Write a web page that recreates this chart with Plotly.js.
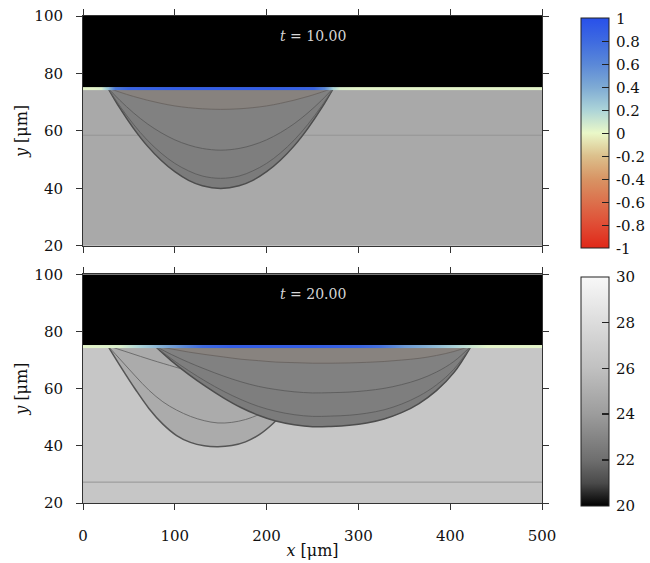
<!DOCTYPE html>
<html>
<head>
<meta charset="utf-8">
<script src="https://cdn.plot.ly/plotly-3.0.1.min.js"></script>
<style>html,body{margin:0;padding:0;background:#fff;}#chart{width:650px;height:563px;}</style>
</head>
<body>
<div id="chart"></div>
<script>
// ---------------- data ----------------
const xTicks = [0, 100, 200, 300, 400, 500];
const yTicks = [20, 40, 60, 80, 100];

// background field (cell edges) : substrate 20-75, gas 75-100
const fieldX = [0, 500];
const fieldY = [20, 75, 100];
const fieldTop = [[24.7], [20]];
const fieldBottom = [[26.4], [20]];

// faint horizontal isolines in the substrate
const isoX = [0, 500];
const isoTopY = [58.5, 58.5];
const isoBottomY = [27.3, 27.3];

// t = 10 : melt pool boundary and inner contours
const poolTopX = [27, 40, 55, 70, 85, 100, 115, 130, 150, 170, 185, 200, 215, 230, 245, 260, 273];
const poolTopY = [75, 68.0, 60.9, 54.8, 49.8, 45.8, 42.8, 40.9, 40.0, 40.9, 42.8, 45.8, 49.8, 54.8, 60.9, 68.0, 75];
const contTop1Y = [75, 68.7, 62.3, 56.8, 52.3, 48.7, 46.1, 44.3, 43.5, 44.3, 46.1, 48.7, 52.3, 56.8, 62.3, 68.7, 75];
const contTop2Y = [75, 70.7, 66.3, 62.5, 59.4, 56.9, 55.1, 53.9, 53.3, 53.9, 55.1, 56.9, 59.4, 62.5, 66.3, 70.7, 75];
const contTop3Y = [75, 73.5, 72.0, 70.7, 69.6, 68.7, 68.1, 67.7, 67.5, 67.7, 68.1, 68.7, 69.6, 70.7, 72.0, 73.5, 75];

// t = 20 : older (solidified) pool A and current pool B
const poolAX = [27, 42, 57, 72, 87, 102, 117, 132, 147, 162, 177, 192, 207, 222, 237, 252, 262];
const poolAY = [75, 67.2, 59.8, 53.0, 47.6, 43.6, 41.2, 40.0, 39.7, 40.1, 41.4, 43.9, 47.8, 53.0, 59.5, 67.0, 75];
const contA1X = [27, 42, 57, 72, 87, 102, 117, 132, 147, 162, 177, 192, 200];
const contA1Y = [75, 69.7, 64.4, 59.4, 55.4, 52.5, 50.3, 48.8, 48.0, 48.2, 49.2, 51.0, 52.3];
const contA2X = [27, 50, 75, 100, 112];
const contA2Y = [75, 72.6, 70, 67.6, 66.5];
const poolBX = [78, 96, 115, 134, 153, 172, 191, 210, 230, 250, 270, 290, 309, 328, 347, 366, 385, 404, 423];
const poolBY = [75, 69.8, 65.0, 60.7, 56.8, 53.4, 50.7, 48.7, 47.4, 46.7, 46.8, 47.2, 48.0, 49.4, 51.6, 54.8, 59.3, 65.6, 75];
const contB1Y = [75, 70.5, 66.3, 62.5, 59.1, 56.2, 53.8, 52.1, 50.9, 50.3, 50.4, 50.7, 51.4, 52.6, 54.6, 57.4, 61.3, 66.8, 75];
const contB2Y = [75, 72.0, 69.2, 66.7, 64.4, 62.4, 60.8, 59.7, 58.9, 58.5, 58.6, 58.8, 59.3, 60.1, 61.4, 63.2, 65.8, 69.5, 75];
const contB3Y = [75, 73.9, 72.8, 71.9, 71.1, 70.3, 69.8, 69.3, 69.1, 68.9, 68.9, 69.0, 69.2, 69.5, 70.0, 70.6, 71.6, 73.0, 75];

// phase field along the free surface
const bandY = [74.35, 74.95];
const phaseTopX = [0, 10, 20, 27, 35, 50, 100, 150, 200, 250, 262, 272, 280, 300, 400, 500];
const phaseTopV = [0.02, 0.02, 0.05, 0.3, 0.7, 0.85, 0.9, 0.9, 0.9, 0.85, 0.6, 0.2, 0.05, 0.02, 0.02, 0.02];
const phaseBotX = [0, 40, 75, 100, 130, 160, 250, 300, 323, 350, 388, 423, 440, 500];
const phaseBotV = [0.02, 0.05, 0.3, 0.5, 0.8, 0.9, 0.9, 0.85, 0.75, 0.5, 0.3, 0.1, 0.02, 0.02];

const timeLabels = ['<i>t</i> = 10.00', '<i>t</i> = 20.00'];
const labelPos = [250, 93];

const phaseTicks = [-1, -0.8, -0.6, -0.4, -0.2, 0, 0.2, 0.4, 0.6, 0.8, 1];
const phaseTickText = ['-1', '-0.8', '-0.6', '-0.4', '-0.2', '0', '0.2', '0.4', '0.6', '0.8', '1'];
const grayTicks = [20, 22, 24, 26, 28, 30];
const grayTickText = ['20', '22', '24', '26', '28', '30'];

// ---------------- styles ----------------
const FONT = 'DejaVu Serif, Liberation Serif, serif';
const PAD = '\u2009';
const grayScale = [[0, '#000000'], [0.1, '#4a4a4a'], [0.2, '#6e6e6e'], [0.4, '#9c9c9c'], [0.6, '#c0c0c0'], [0.8, '#dcdcdc'], [1, '#f8f8f8']];
const phaseScale = [[0, '#e02818'], [0.1, '#e04c34'], [0.2, '#dc704c'], [0.3, '#d89464'], [0.4, '#dcc08c'], [0.5, '#eaf8c8'],
  [0.6, '#acd4d8'], [0.7, '#7eaad4'], [0.8, '#5a88d8'], [0.9, '#3e6ae0'], [1, '#2850ea']];

const traces = [];
function cbar(y, len, vals, text) {
  return {x: 1.085, xanchor: 'left', xpad: 0, y: y, yanchor: 'top', ypad: 0,
    thickness: 28, thicknessmode: 'pixels', len: len, lenmode: 'pixels',
    outlinewidth: 1, outlinecolor: '#222', ticks: 'inside', ticklen: 7, tickcolor: '#222', tickwidth: 1.5,
    tickvals: vals, ticktext: text.map(s => PAD + s), tickfont: {family: FONT, size: 15, color: '#111'}};
}
function field(xa, ya, z, withScale) {
  const t = {type: 'heatmap', x: fieldX, y: fieldY, z: z, xaxis: xa, yaxis: ya,
    colorscale: grayScale, zmin: 20, zmax: 30, showscale: withScale, hoverinfo: 'skip'};
  if (withScale) t.colorbar = cbar(0.4647, 229, grayTicks, grayTickText);
  traces.push(t);
}
function line(xa, ya, x, y, color, width) {
  traces.push({type: 'scatter', mode: 'lines', x: x, y: y, xaxis: xa, yaxis: ya,
    line: {color: color, width: width, shape: 'spline', smoothing: 1}, hoverinfo: 'skip', showlegend: false});
}
function region(xa, ya, x, y, fill, edge, width) {
  traces.push({type: 'scatter', mode: 'lines', x: x, y: y, xaxis: xa, yaxis: ya, fill: 'toself',
    fillcolor: fill, line: {color: edge, width: width, shape: 'spline', smoothing: 1}, hoverinfo: 'skip', showlegend: false});
}
function phase(xa, ya, x, v, withScale) {
  const t = {type: 'heatmap', x: x, y: bandY, z: [v, v], xaxis: xa, yaxis: ya, zsmooth: 'best',
    colorscale: phaseScale, zmin: -1, zmax: 1, showscale: withScale, hoverinfo: 'skip'};
  if (withScale) t.colorbar = cbar(0.9953, 230, phaseTicks, phaseTickText);
  traces.push(t);
}

// top panel (t = 10)
field('x', 'y', fieldTop, false);
line('x', 'y', isoX, isoTopY, '#959595', 1);
region('x', 'y', poolTopX, poolTopY, '#7b7b7b', '#4d4d4d', 1.5);
region('x', 'y', poolTopX, contTop1Y, '#7e7e7e', '#5c5c5c', 0.9);
region('x', 'y', poolTopX, contTop2Y, '#818181', '#5c5c5c', 0.9);
region('x', 'y', poolTopX, contTop3Y, '#87827e', '#6a6461', 0.9);
phase('x3', 'y3', phaseTopX, phaseTopV, true);

// bottom panel (t = 20)
field('x2', 'y2', fieldBottom, true);
line('x2', 'y2', isoX, isoBottomY, '#959595', 1);
region('x2', 'y2', poolAX, poolAY, '#ababab', '#555555', 1.5);
line('x2', 'y2', contA1X, contA1Y, '#666666', 0.9);
line('x2', 'y2', contA2X, contA2Y, '#666666', 0.9);
region('x2', 'y2', poolBX, poolBY, '#7b7b7b', '#4d4d4d', 1.5);
region('x2', 'y2', poolBX, contB1Y, '#7e7e7e', '#5c5c5c', 0.9);
region('x2', 'y2', poolBX, contB2Y, '#818181', '#5c5c5c', 0.9);
region('x2', 'y2', poolBX, contB3Y, '#88837f', '#6a6461', 0.9);
phase('x4', 'y4', phaseBotX, phaseBotV, false);

const axCommon = {showgrid: false, zeroline: false, showline: true, linecolor: '#333', linewidth: 1,
  mirror: 'ticks', ticks: 'outside', ticklen: 6, tickcolor: '#333', tickwidth: 1};
const tickFontY = {family: FONT, size: 15, color: '#111'};
const titleFont = {family: FONT, size: 16, color: '#111'};
const hidden = {visible: false, showgrid: false, zeroline: false};

const layout = {
  width: 650, height: 563,
  margin: {l: 83, r: 108, t: 16, b: 60, autoexpand: false},
  paper_bgcolor: '#ffffff', plot_bgcolor: '#ffffff',
  showlegend: false,
  font: {family: FONT, color: '#111'},
  xaxis: Object.assign({}, axCommon, {domain: [0, 1], anchor: 'y', range: [0, 500], tickvals: xTicks, showticklabels: false}),
  yaxis: Object.assign({}, axCommon, {domain: [0.528, 1], anchor: 'x', range: [20, 100], tickvals: yTicks,
    tickfont: tickFontY, ticklabelstandoff: 10,
    title: {text: '<i>y</i> [μm]', font: titleFont, standoff: 2}}),
  xaxis2: Object.assign({}, axCommon, {domain: [0, 1], anchor: 'y2', range: [0, 500], tickvals: xTicks,
    tickfont: {family: FONT, size: 15, color: '#111'}, ticklabelstandoff: 13,
    title: {text: '<i>x</i> [μm]', font: titleFont, standoff: 0}}),
  yaxis2: Object.assign({}, axCommon, {domain: [0, 0.4696], anchor: 'x2', range: [20, 100], tickvals: yTicks,
    tickfont: tickFontY, ticklabelstandoff: 10,
    title: {text: '<i>y</i> [μm]', font: titleFont, standoff: 2}}),
  xaxis3: Object.assign({}, hidden, {overlaying: 'x', anchor: 'y3', range: [0, 500]}),
  yaxis3: Object.assign({}, hidden, {overlaying: 'y', anchor: 'x3', domain: [0.528, 1], range: [20, 100]}),
  xaxis4: Object.assign({}, hidden, {overlaying: 'x2', anchor: 'y4', range: [0, 500]}),
  yaxis4: Object.assign({}, hidden, {overlaying: 'y2', anchor: 'x4', domain: [0, 0.4696], range: [20, 100]}),
  annotations: [
    {xref: 'x', yref: 'y', x: labelPos[0], y: labelPos[1], text: timeLabels[0], showarrow: false,
      font: {family: FONT, size: 14, color: '#d6d6d6'}},
    {xref: 'x2', yref: 'y2', x: labelPos[0], y: labelPos[1], text: timeLabels[1], showarrow: false,
      font: {family: FONT, size: 14, color: '#d6d6d6'}}
  ]
};

Plotly.newPlot('chart', traces, layout, {staticPlot: true, displayModeBar: false});
</script>
</body>
</html>
